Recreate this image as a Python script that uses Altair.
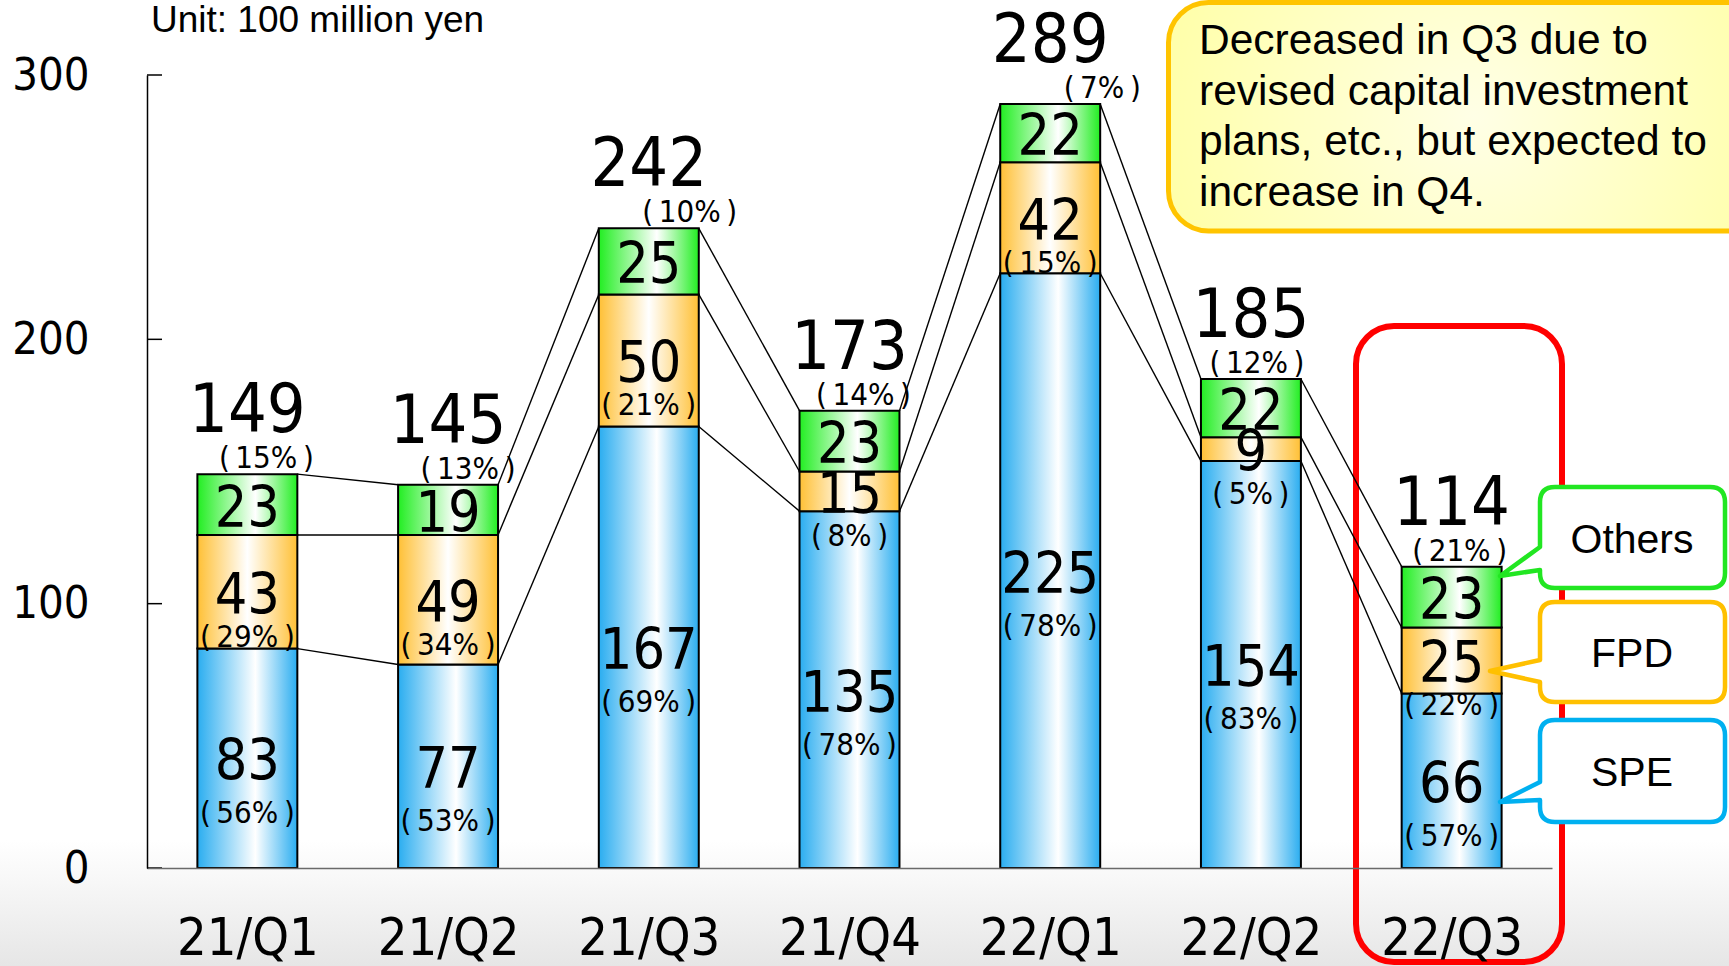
import json
import altair as alt
import pandas as pd

# ---- data -------------------------------------------------------------
quarters = ["21/Q1", "21/Q2", "21/Q3", "21/Q4", "22/Q1", "22/Q2", "22/Q3"]
spe = [83, 77, 167, 135, 225, 154, 66]
fpd = [43, 49, 50, 15, 42, 9, 25]
others = [23, 19, 25, 23, 22, 22, 23]
totals = [149, 145, 242, 173, 289, 185, 114]
spe_pct = [56, 53, 69, 78, 78, 83, 57]
fpd_pct = [29, 34, 21, 8, 15, 5, 22]
others_pct = [15, 13, 10, 14, 7, 12, 21]
y_ticks = [0, 100, 200, 300]
unit_note = "Unit: 100 million yen"
comment_lines = [
    "Decreased in Q3 due to",
    "revised capital investment",
    "plans, etc., but expected to",
    "increase in Q4.",
]
legend_names = ["Others", "FPD", "SPE"]

# ---- layout / style -----------------------------------------------------
W, H = 1405, 793          # plot area
PAD_L, PAD_T = 147, 75
PAD_R, PAD_B = 1729 - PAD_L - W, 966 - PAD_T - H
STEP = W / len(quarters)
HALF = 0.249              # half bar width, in category units
NUM_FONT = "DejaVu Sans Condensed, DejaVu Sans"
TXT_FONT = "Liberation Sans, Arial"
# small horizontal nudges (px) of the "Others" share labels
others_pct_nudge = [19, 20, 41, 14, 52, 6, 8]


def hgrad(edge, mid_at=0.55):
    return {
        "gradient": "linear", "x1": 0, "y1": 0, "x2": 1, "y2": 0,
        "stops": [
            {"offset": 0, "color": edge},
            {"offset": mid_at, "color": "#ffffff"},
            {"offset": 1, "color": edge},
        ],
    }


SERIES_STYLE = {
    "SPE": hgrad("#2aadf0", 0.58),
    "FPD": hgrad("#ffc035", 0.5),
    "Others": hgrad("#22ee22", 0.58),
}


def share(p):
    return f"(\u2009{p}%\u2009)"


# ---- tables -------------------------------------------------------------
rows = []
for i, q in enumerate(quarters):
    base = 0
    for name, vals, pcts in (("SPE", spe, spe_pct), ("FPD", fpd, fpd_pct),
                             ("Others", others, others_pct)):
        v = vals[i]
        rows.append(dict(q=q, idx=i, series=name, lo=base, hi=base + v,
                         mid=base + v / 2, value=str(v), pct=share(pcts[i]),
                         xc=i + 0.5, x0=i + 0.5 - HALF, x1=i + 0.5 + HALF))
        base += v
seg = pd.DataFrame(rows)

tot = pd.DataFrame(dict(
    q=quarters, total=totals, label=[str(t) for t in totals],
    xc=[i + 0.5 for i in range(len(quarters))],
    xp=[i + 0.5 + others_pct_nudge[i] / STEP for i in range(len(quarters))],
    pct=[share(p) for p in others_pct],
))

cum_spe = spe
cum_fpd = [a + b for a, b in zip(spe, fpd)]
links = []
for i in range(len(quarters) - 1):
    for level in (cum_spe, cum_fpd, totals):
        links.append(dict(x0=i + 0.5 + HALF, x1=i + 1.5 - HALF,
                          y0=level[i], y1=level[i + 1]))
links = pd.DataFrame(links)

one = pd.DataFrame({"k": [0]})

# ---- scales & axes ------------------------------------------------------
xscale = alt.Scale(domain=[0, len(quarters)], nice=False, zero=False)
yscale = alt.Scale(domain=[0, 300], nice=False)
label_expr = f"{json.dumps(quarters)}[floor(datum.value)]"
xaxis = alt.Axis(values=[i + 0.5 for i in range(len(quarters))], labelExpr=label_expr,
                 ticks=False, tickSize=0, grid=False, domainColor="#6a6a6a",
                 domainWidth=1.5, labelFont=NUM_FONT, labelFontSize=52,
                 labelColor="black", labelPadding=86, labelBaseline="alphabetic",
                 labelFlush=False, labelOverlap=False, title=None, zindex=1)
yaxis = alt.Axis(values=y_ticks, ticks=False, tickSize=0, grid=False,
                 domainColor="black", domainWidth=1.5, labelFont=NUM_FONT,
                 labelFontSize=45, labelColor="black", labelPadding=58,
                 labelBaseline="middle", labelFlush=False, labelOverlap=False,
                 title=None, zindex=1)

X = lambda f: alt.X(f, scale=xscale, axis=xaxis)
Y = lambda f: alt.Y(f, scale=yscale, axis=yaxis)

layers = []

# soft grey band at the bottom of the slide
layers.append(alt.Chart(one).mark_rect(fill={
    "gradient": "linear", "x1": 0, "y1": 0, "x2": 0, "y2": 1,
    "stops": [{"offset": 0, "color": "#ffffff"},
              {"offset": 0.25, "color": "#f9f9f9"},
              {"offset": 1, "color": "#e5e5e5"}]}).encode(
    x=alt.value(-PAD_L), x2=alt.value(W + PAD_R + 5),
    y=alt.value(840 - PAD_T), y2=alt.value(966 - PAD_T + 5)))

# comment box
layers.append(alt.Chart(one).mark_rect(fill={
    "gradient": "radial", "x1": 0.5, "y1": 0.5, "r1": 0, "x2": 0.5, "y2": 0.5, "r2": 0.7,
    "stops": [{"offset": 0, "color": "#ffffe6"}, {"offset": 1, "color": "#ffff94"}]},
    stroke="#ffc400", strokeWidth=5, cornerRadius=40).encode(
    x=alt.value(1168.5 - PAD_L), x2=alt.value(1780 - PAD_L),
    y=alt.value(2.5 - PAD_T), y2=alt.value(231 - PAD_T)))
layers.append(alt.Chart(one).mark_text(
    font=TXT_FONT, fontSize=42.5, align="left", baseline="alphabetic",
    lineHeight=50.7, color="black").encode(
    x=alt.value(1199 - PAD_L), y=alt.value(54 - PAD_T), text=alt.value(comment_lines)))

# highlight frame around the latest quarter
layers.append(alt.Chart(one).mark_rect(
    fillOpacity=0, stroke="#ff0000", strokeWidth=6, cornerRadius=38).encode(
    x=alt.value(1356 - PAD_L), x2=alt.value(1562 - PAD_L),
    y=alt.value(326 - PAD_T), y2=alt.value(962 - PAD_T)))

# connector lines between segment boundaries
layers.append(alt.Chart(links).mark_rule(color="black", strokeWidth=1.4).encode(
    x=X("x0:Q"), x2="x1:Q", y=Y("y0:Q"), y2="y1:Q"))

# stacked bars
for name in ("SPE", "FPD", "Others"):
    layers.append(alt.Chart(seg).transform_filter(alt.datum.series == name).mark_bar(
        fill=SERIES_STYLE[name], stroke="black", strokeWidth=2, opacity=1).encode(
        x=X("x0:Q"), x2="x1:Q", y=Y("lo:Q"), y2="hi:Q"))

# inward ticks on the value axis
layers.append(alt.Chart(pd.DataFrame({"t": y_ticks})).mark_rule(
    color="black", strokeWidth=1.5).encode(y=Y("t:Q"), x=alt.value(0), x2=alt.value(15)))

# segment values and shares
layers.append(alt.Chart(seg).mark_text(
    font=NUM_FONT, fontSize=57, baseline="alphabetic", dy=22, color="black").encode(
    x=X("xc:Q"), y=Y("mid:Q"), text="value:N"))
layers.append(alt.Chart(seg).transform_filter(alt.datum.series == "FPD").mark_text(
    font=NUM_FONT, fontSize=31, baseline="alphabetic", dy=55, color="black").encode(
    x=X("xc:Q"), y=Y("mid:Q"), text="pct:N"))
layers.append(alt.Chart(seg).transform_filter(alt.datum.series == "SPE").mark_text(
    font=NUM_FONT, fontSize=31, baseline="alphabetic", dy=65, color="black").encode(
    x=X("xc:Q"), y=Y("mid:Q"), text="pct:N"))

# totals and "Others" share above each bar
layers.append(alt.Chart(tot).mark_text(
    font=NUM_FONT, fontSize=68, baseline="alphabetic", dy=-42, color="black").encode(
    x=X("xc:Q"), y=Y("total:Q"), text="label:N"))
layers.append(alt.Chart(tot).mark_text(
    font=NUM_FONT, fontSize=31, baseline="alphabetic", dy=-6, color="black").encode(
    x=X("xp:Q"), y=Y("total:Q"), text="pct:N"))


# legend call-outs (rounded box with a pointer, drawn as one symbol path)
def callout(top, bottom, base_top, base_bot, tip, left=1540, right=1725, r=15):
    cx, cy, h = (1490 + right) / 2, (top + bottom) / 2, 120.0

    def p(x, y):
        return f"{(x - cx) / h:.4f},{(y - cy) / h:.4f}"

    path = (f"M{p(left + r, top)}L{p(right - r, top)}Q{p(right, top)} {p(right, top + r)}"
            f"L{p(right, bottom - r)}Q{p(right, bottom)} {p(right - r, bottom)}"
            f"L{p(left + r, bottom)}Q{p(left, bottom)} {p(left, bottom - r)}"
            f"L{p(left, base_bot)}L{p(*tip)}L{p(left, base_top)}"
            f"L{p(left, top + r)}Q{p(left, top)} {p(left + r, top)}Z")
    return path, cx, cy, (2 * h) ** 2


callout_specs = {
    "Others": dict(top=487, bottom=588, base_top=547, base_bot=570, tip=(1500, 576)),
    "FPD": dict(top=602, bottom=702, base_top=660, base_bot=682, tip=(1490, 671)),
    "SPE": dict(top=720, bottom=822, base_top=782, base_bot=800, tip=(1500, 802)),
}
callout_colors = {"Others": "#22e622", "FPD": "#ffc000", "SPE": "#00b0f0"}
for name in legend_names:
    s = callout_specs[name]
    path, cx, cy, size = callout(**s)
    layers.append(alt.Chart(one).mark_point(
        shape=path, size=size, filled=True, fill="white", stroke=callout_colors[name],
        strokeWidth=4.5, opacity=1, strokeJoin="round").encode(
        x=alt.value(cx - PAD_L), y=alt.value(cy - PAD_T)))
    layers.append(alt.Chart(one).mark_text(
        font=TXT_FONT, fontSize=41, align="center", baseline="alphabetic",
        color="black").encode(
        x=alt.value(1632 - PAD_L), y=alt.value((s["top"] + s["bottom"]) / 2 + 15 - PAD_T),
        text=alt.value(name)))

# unit note
layers.append(alt.Chart(one).mark_text(
    font=TXT_FONT, fontSize=37, align="left", baseline="alphabetic", color="black").encode(
    x=alt.value(151 - PAD_L), y=alt.value(32 - PAD_T), text=alt.value(unit_note)))

# plot frame blends into the white page (it sits beneath every mark)
chart = alt.layer(*layers).properties(
    width=W, height=H,
    background="white",
    autosize=alt.AutoSizeParams(type="none"),
    padding={"left": PAD_L, "top": PAD_T, "right": PAD_R, "bottom": PAD_B},
).configure(
    view=alt.ViewConfig(stroke="#ffffff", strokeWidth=1),
    style={"cell": {"stroke": "#ffffff", "strokeWidth": 1}},
)

chart.save("out.html", embed_options={"renderer": "svg", "actions": False})
